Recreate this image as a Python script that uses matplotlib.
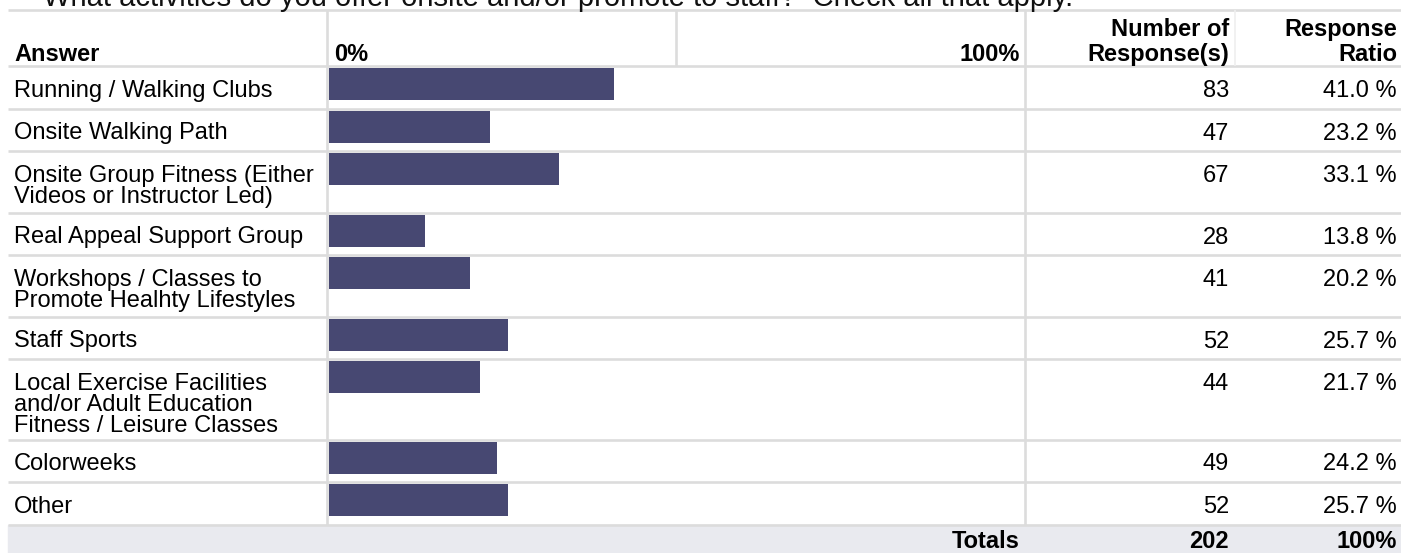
import matplotlib
matplotlib.use("Agg")
import matplotlib.pyplot as plt

plt.rcParams["font.family"] = ["Liberation Sans", "DejaVu Sans"]

# ---- data ----
title = "What activities do you offer onsite and/or promote to staff?  Check all that apply."
answers = [
    "Running / Walking Clubs",
    "Onsite Walking Path",
    "Onsite Group Fitness (Either\nVideos or Instructor Led)",
    "Real Appeal Support Group",
    "Workshops / Classes to\nPromote Healhty Lifestyles",
    "Staff Sports",
    "Local Exercise Facilities\nand/or Adult Education\nFitness / Leisure Classes",
    "Colorweeks",
    "Other",
]
responses = [83, 47, 67, 28, 41, 52, 44, 49, 52]
ratios = [41.0, 23.2, 33.1, 13.8, 20.2, 25.7, 21.7, 24.2, 25.7]
total_label = "Totals"
total_responses = 202
total_ratio = "100%"
head_answer = "Answer"
head_lo = "0%"
head_hi = "100%"
head_num = ["Number of", "Response(s)"]
head_ratio = ["Response", "Ratio"]

# ---- layout (pixels) ----
W, H = 1401, 553
left = 8
col_bar = 327
col_mid = 676
col_num = 1025
col_ratio = 1235
bar_x0 = 329
head_top = 10
head_bot = 66
row_h = 42.5
extra_line = 19
line_gap = 21
fs = 17
grid = "#dcdcdc"
barcol = "#474872"

fig = plt.figure(figsize=(W / 100, H / 100), dpi=100)
ax = fig.add_axes([0, 0, 1, 1])
ax.set_xlim(0, W)
ax.set_ylim(H, 0)
ax.axis("off")

# row positions
tops = []
y = head_bot
for lab in answers:
    tops.append(y)
    y += row_h + extra_line * lab.count("\n")
table_bot = y

# totals background
ax.add_patch(plt.Rectangle((left, table_bot), W - left, H - table_bot, color="#e9eaef", zorder=0))

# grid lines
lw = 1.9
ax.hlines([head_top, head_bot] + [t for t in tops[1:]] + [table_bot], left, W, color=grid, lw=lw, zorder=1)
ax.vlines([col_bar, col_num], head_top, table_bot, color=grid, lw=lw, zorder=1)
ax.vlines(col_mid, head_top, head_bot, color=grid, lw=lw, zorder=1)
ax.vlines(col_ratio, head_top, head_bot, color="#efefef", lw=1.2, zorder=1)

# title, cut at top
ax.text(43, 6, title, fontsize=21, va="baseline", ha="left", color="#111111")

# header
hb = dict(fontsize=fs, fontweight="bold", va="baseline")
ax.text(14, 61, head_answer, ha="left", **hb)
ax.text(334, 61, head_lo, ha="left", **hb)
ax.text(1020, 61, head_hi, ha="right", **hb)
ax.text(1229, 36, head_num[0], ha="right", **hb)
ax.text(1229, 61, head_num[1], ha="right", **hb)
ax.text(1397, 36, head_ratio[0], ha="right", **hb)
ax.text(1397, 61, head_ratio[1], ha="right", **hb)

# rows
for lab, n, r, t in zip(answers, responses, ratios, tops):
    for i, part in enumerate(lab.split("\n")):
        ax.text(14, t + 31 + i * line_gap, part, fontsize=fs, va="baseline", ha="left")
    ax.text(1229, t + 31, str(n), fontsize=fs, va="baseline", ha="right")
    ax.text(1397, t + 31, f"{r:.1f} %", fontsize=fs, va="baseline", ha="right")

# totals
ax.text(1020, 548, total_label, ha="right", **hb)
ax.text(1229, 548, str(total_responses), ha="right", **hb)
ax.text(1397, 548, total_ratio, ha="right", **hb)

# bars on their own percent axis
bx = fig.add_axes([bar_x0 / W, 0, (col_num - bar_x0) / W, 1])
bx.set_xlim(0, 100)
bx.set_ylim(H, 0)
bx.axis("off")
bx.barh([t + 2 for t in tops], ratios, height=32, align="edge", color=barcol)

fig.savefig("out.png", dpi=100)
